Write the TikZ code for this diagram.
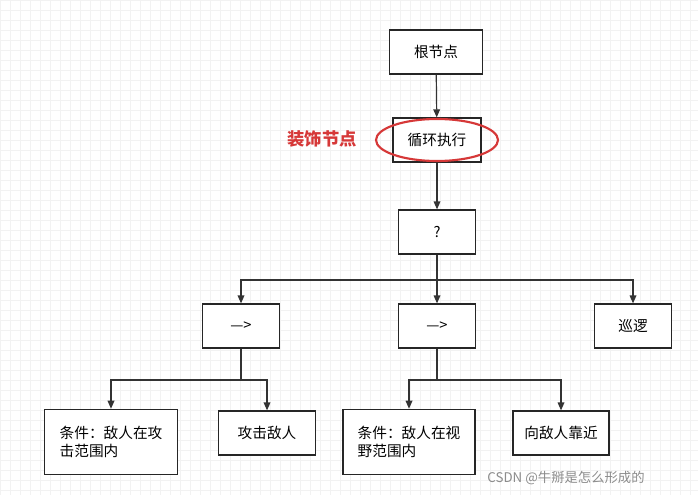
\documentclass[tikz,border=0pt]{standalone}
\usepackage{fontspec}
\setmainfont{Noto Sans CJK SC}
\usetikzlibrary{arrows.meta}
\definecolor{deco}{RGB}{214,56,56}
\begin{document}
\begin{tikzpicture}[x=0.75pt,y=-0.75pt,
  box/.style={draw=black!85,line width=0.9pt,fill=white,minimum height=33pt,font=\fontsize{11pt}{14pt}\selectfont,inner sep=2pt,align=left},
  arr/.style={draw=black!80,line width=0.9pt,-{Triangle[length=6pt,width=5pt]}},
  ln/.style={draw=black!80,line width=0.9pt}]
\useasboundingbox (0,0) rectangle (698,495);
\fill[white] (0,0) rectangle (698,495);
\draw[black!5,line width=0.4pt,step=7.5pt] (0,0) grid (698,495);
\node[box,minimum width=70pt] (root) at (436,52) {根节点};
\node[box,minimum width=66pt] (loop) at (437,140) {循环执行};
\draw[deco,line width=1.6pt] (437,140) ellipse [x radius=61,y radius=21];
\node[text=deco,font=\fontsize{13pt}{15pt}\selectfont\bfseries] (decol) at (322,139) {装饰节点};
\node[box,minimum width=58pt] (sel) at (437,232) {?};
\node[box,minimum width=58pt] (s1) at (241,326) {—>};
\node[box,minimum width=58pt] (s2) at (437,326) {—>};
\node[box,minimum width=58pt] (pat) at (633,326) {巡逻};
\node[box,minimum width=100pt,minimum height=49pt] (c1) at (111,442) {条件：敌人在攻\\击范围内};
\node[box,minimum width=73pt] (a1) at (267,433) {攻击敌人};
\node[box,minimum width=99pt,minimum height=49pt] (c2) at (409,442) {条件：敌人在视\\野范围内};
\node[box,minimum width=72pt] (a2) at (561,433) {向敌人靠近};
\draw[arr] (root) -- (loop);
\draw[arr] (loop) -- (sel);
\coordinate (j1) at (437,280);
\draw[ln] (sel) -- (j1);
\draw[arr] (j1) -| (s1);
\draw[arr] (j1) -- (s2);
\draw[arr] (j1) -| (pat);
\coordinate (j2) at (241,380);
\draw[ln] (s1) -- (j2);
\draw[arr] (j2) -| (c1);
\draw[arr] (j2) -| (a1);
\coordinate (j3) at (437,380);
\draw[ln] (s2) -- (j3);
\draw[arr] (j3) -| (c2);
\draw[arr] (j3) -| (a2);
\node[text=black!45,font=\fontsize{10pt}{12pt}\selectfont] (wm) at (566,478) {CSDN @牛掰是怎么形成的};
\end{tikzpicture}
\end{document}
